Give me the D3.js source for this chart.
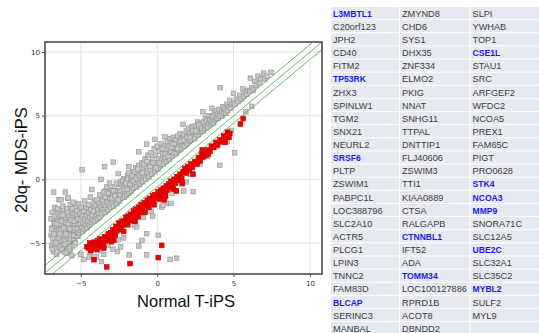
<!DOCTYPE html>
<html>
<head>
<meta charset="utf-8">
<script src="https://cdn.jsdelivr.net/npm/d3@7"></script>
<style>
  body { margin: 0; background: #fff; }
  svg { display: block; font-family: "Liberation Sans", Arial, sans-serif; }
</style>
</head>
<body>
<div id="chart"></div>
<script>
// log2 expression, Normal T-iPS (x) vs 20q- MDS-iPS (y)
const grayPts = [
  [-6.95,-3.1],[-6.95,-4.4],[-6.9,-5.2],[-6.88,-2.6],[-6.85,-3.8],[-6.82,-4.9],[-6.8,-5.7],[-6.78,-1.0],
  [-6.75,-3.4],[-6.72,-4.1],[-6.7,-2.2],[-6.68,-5.4],[-6.65,-4.7],[-6.62,-3.0],[-6.6,-3.7],[-6.58,-5.9],
  [-6.55,-2.7],[-6.52,-4.3],[-6.5,-5.1],[-6.48,-3.3],[-6.45,-1.6],[-6.42,-4.0],[-6.4,-4.8],[-6.38,-2.4],
  [-6.35,-3.6],[-6.32,-5.5],[-6.3,-2.9],[-6.28,-4.5],[-6.25,-3.9],[-6.22,-5.2],[-6.2,-3.2],[-6.18,-2.1],
  [-6.15,-4.2],[-6.12,-5.7],[-6.1,-2.6],[-6.08,-3.5],[-6.05,-4.8],[-6.02,-1.0],[-6.0,-4.0],[-5.98,-3.0],
  [-5.95,-5.3],[-5.92,-2.3],[-5.9,-4.5],[-5.88,-3.7],[-5.85,-1.5],[-5.82,-5.0],[-5.8,-2.8],[-5.78,-4.2],
  [-5.75,-3.3],[-5.72,-5.6],[-5.7,-2.0],[-5.68,-3.9],[-5.65,-4.7],[-5.62,-2.5],[-5.6,-3.5],[-5.58,-5.2],
  [-5.55,-4.3],[-5.52,-3.0],[-5.5,-1.8],[-5.48,-4.0],[-5.45,-4.8],[-5.42,-2.7],[-5.4,-3.6],[-5.38,-5.0],
  [-5.35,-2.2],[-5.32,-4.4],[-5.3,-3.2],[-6.6,-4.5],[-6.3,-4.0],[-6.0,-3.4],[-5.7,-4.4],[-5.5,-3.8],
  [-6.85,-4.6],[-6.4,-5.3],[-5.95,-5.8],[-6.7,-3.5],[-6.1,-4.4],[-6.3,-1.6],[-5.83,-1.46],
  [-6.92,-3.9],[-6.87,-5.5],[-6.77,-4.3],[-6.73,-2.9],[-6.63,-5.0],[-6.57,-3.5],[-6.53,-2.3],[-6.47,-4.6],
  [-6.37,-4.3],[-6.27,-3.3],[-6.23,-5.5],[-6.17,-2.8],[-6.13,-3.8],[-6.03,-5.1],[-5.97,-4.3],[-5.87,-2.6],
  [-5.83,-3.5],[-5.77,-5.3],[-5.73,-3.9],[-5.63,-3.2],[-5.57,-2.3],[-5.47,-4.4],[-5.43,-3.3],[-5.37,-3.9],
  [-5.27,-2.8],[-5.17,-3.7],[-5.08,-2.4],[-4.97,-3.5],[-4.87,-2.2],[-4.77,-3.3],[-4.67,-2.6],[-4.57,-3.0],
  [-4.47,-2.3],[-4.37,-3.2],[-4.27,-2.2],[-4.17,-2.9],[-4.07,-1.7],[-3.97,-2.6],[-3.87,-2.0],[-3.77,-2.6],
  [-3.67,-1.5],[-3.57,-2.0],[-3.47,-1.6],[-3.37,-0.9],[-3.27,-1.4],[-3.17,-1.8],[-3.07,-1.0],
  [-5.25,-2.5],[-5.22,-3.9],[-5.2,-4.5],[-5.18,-3.1],[-5.15,-1.9],[-5.12,-4.2],[-5.1,-3.5],[-5.05,-2.7],
  [-5.02,-4.0],[-5.0,-3.2],[-4.98,-2.2],[-4.95,-3.8],[-4.92,0.75],[-4.9,-2.9],[-4.88,-4.1],[-4.85,-3.4],
  [-4.8,-2.5],[-4.78,-3.9],[-4.75,-1.7],[-4.72,-3.1],[-4.7,-3.6],[-4.65,-2.2],[-4.62,-2.8],[-4.6,-3.8],
  [-4.55,-3.3],[-4.5,-2.0],[-4.48,-2.6],[-4.45,-3.6],[-4.4,-3.0],[-4.38,-1.4],[-4.35,-2.4],[-4.3,-3.4],
  [-4.28,-0.8],[-4.25,-2.8],[-4.2,-3.2],[-4.18,-1.9],[-4.15,-2.5],[-4.1,-3.3],[-4.05,-2.1],[-4.0,-2.9],
  [-3.95,-1.6],[-3.92,-3.1],[-3.9,-2.4],[-3.85,-2.7],[-3.8,-1.9],[-3.78,-3.0],[-3.75,-1.2],[-3.7,-2.2],
  [-3.68,0.0],[-3.65,-2.7],[-3.6,-1.7],[-3.55,-2.4],[-3.5,-1.0],[-3.48,-2.0],[-3.45,1.0],[-3.42,-2.6],
  [-3.4,-1.4],[-3.35,-2.2],[-3.3,-0.6],[-3.28,-1.8],[-3.25,-2.4],[-3.2,-1.1],[-3.15,-2.0],[-3.12,-0.3],
  [-3.1,-1.5],[-3.05,-2.2],[-3.0,-0.8],
  [-2.95,-1.9],[-2.9,-1.2],[-2.88,1.35],[-2.85,-2.1],[-2.8,-0.6],[-2.75,-1.6],[-2.7,-0.9],[-2.65,-1.9],
  [-2.6,-1.3],[-2.55,0.45],[-2.5,-0.4],[-2.48,-1.7],[-2.45,-1.0],[-2.4,-0.2],[-2.35,-1.5],[-2.3,-0.7],
  [-2.25,-1.2],[-2.2,0.05],[-2.15,-1.4],[-2.1,-0.5],[-2.05,-0.9],[-2.0,-1.25],[-1.95,0.3],[-1.9,-0.3],
  [-1.86,1.0],[-1.85,-1.1],[-1.8,-0.6],[-1.75,0.1],[-1.7,-0.95],[-1.65,-0.2],[-1.6,0.6],[-1.55,-0.7],
  [-1.5,0.2],[-1.45,-0.4],[-1.4,0.9],[-1.35,-0.6],[-1.3,0.4],[-1.25,-0.1],[-1.21,2.17],[-1.2,1.1],
  [-1.15,-0.4],[-1.1,0.6],[-1.05,0.0],[-1.0,1.3],[-0.95,-0.2],[-0.9,0.8],[-0.85,0.3],[-0.8,1.6],
  [-0.75,0.0],[-0.69,2.77],[-0.7,1.0],[-0.65,0.5],[-0.6,1.9],[-0.55,0.2],[-0.5,1.3],[-0.45,0.7],
  [-0.4,2.1],[-0.35,0.4],[-0.3,1.6],[-0.25,1.0],[-0.2,2.4],[-0.15,3.14],[-0.15,0.6],[-0.1,1.9],
  [-0.05,1.2],[0.0,2.6],[0.05,0.8],[0.1,1.6],[0.15,2.2],[0.2,1.1],[0.25,2.8],[0.3,1.5],
  [0.35,2.0],[0.4,1.2],[0.45,2.6],[0.5,3.35],[0.5,1.7],[0.55,2.3],[0.6,1.4],[0.65,3.0],
  [0.7,2.0],[0.75,2.6],[0.8,1.6],[0.85,3.2],[0.9,2.2],[0.95,1.8],[1.0,2.8],[1.05,3.3],
  [1.1,2.1],[1.15,2.5],[1.2,3.1],[1.25,2.0],[1.3,2.7],[1.35,3.4],[1.4,2.3],[1.45,2.9],
  [1.5,3.6],[1.55,2.4],[1.6,3.2],[1.69,4.32],[1.7,2.7],[1.75,3.5],[1.8,2.6],[1.85,3.0],
  [1.9,3.8],[1.95,2.8],[2.0,3.4],[2.05,4.0],[2.1,3.0],[2.15,3.6],[2.2,3.1],[2.25,4.1],
  [2.34,4.14],[2.3,3.4],[2.4,3.7],[2.45,3.2],[2.5,4.2],[2.55,3.5],[2.6,3.9],[2.65,4.5],
  [2.7,3.5],[2.75,4.1],[2.8,3.7],[2.85,4.4],[2.9,3.8],[2.95,4.2],[2.99,5.31],[3.0,3.8],
  [-2.97,-1.5],[-2.87,-0.9],[-2.77,-1.3],[-2.67,-0.3],[-2.57,-1.6],[-2.47,-1.2],[-2.37,-0.9],[-2.27,-0.1],
  [-2.17,-0.8],[-2.07,-0.3],[-1.97,-0.8],[-1.87,0.5],[-1.77,-0.4],[-1.67,0.3],[-1.57,-0.1],[-1.47,0.6],
  [-1.37,0.1],[-1.27,0.8],[-1.17,0.3],[-0.97,0.5],[-0.87,1.2],[-0.67,1.4],[-0.47,1.0],[-0.27,1.3],
  [-0.07,0.9],[0.13,1.3],[0.33,2.4],[0.53,2.0],[0.73,1.8],[0.93,2.5],[1.13,2.8],[1.33,2.4],
  [1.53,3.0],[1.73,3.1],[1.93,3.3],[2.13,3.3],[2.33,3.8],[2.53,3.8],[2.73,4.3],[2.93,4.0],
  [3.05,4.5],[3.1,4.0],[3.15,4.8],[3.2,4.2],[3.25,4.6],[3.3,4.1],[3.35,5.0],[3.4,4.4],
  [3.45,4.7],[3.5,4.3],[3.58,5.58],[3.55,5.0],[3.6,4.5],[3.65,4.9],[3.7,4.4],[3.75,5.2],
  [3.8,4.7],[3.85,5.4],[3.9,4.8],[3.95,5.1],[4.0,4.8],[4.05,5.5],[4.12,7.2],[4.1,5.0],
  [4.2,5.3],[4.25,4.95],[4.3,5.7],[4.35,5.2],[4.45,5.5],[4.5,5.2],[4.55,5.9],[4.6,5.4],
  [4.7,5.7],[4.75,6.2],[4.8,5.6],[4.9,5.9],[4.99,6.76],[5.0,6.0],[5.1,5.9],[5.2,6.3],
  [5.3,6.1],[5.4,6.6],[5.5,6.3],[5.6,7.1],[5.65,6.5],[5.75,6.9],[5.8,5.3],[5.85,6.7],
  [5.95,7.0],[6.1,7.94],[6.05,6.9],[6.18,5.74],[6.2,7.2],[6.3,7.0],[6.4,7.7],[6.5,7.4],
  [6.6,8.1],[6.7,7.6],[6.8,7.9],[6.97,8.34],[7.05,7.9],[7.2,8.1],[7.45,8.4],
  [0.07,-4.4],[-1.2,-5.24],[-0.69,-5.94],[0.84,-6.29],[1.27,-6.2],[-1.84,-5.94],[-2.6,-5.68],[-3.65,-6.46],
  [-0.69,-4.27],[4.1,1.1],[5.07,2.08],[4.59,2.96],[1.74,-0.92],[1.21,-0.92],[0.98,-1.1],[4.85,3.84],
  [-4.0,-6.1],[-4.4,-5.9],[-3.9,-5.6],[-3.2,-5.2],[-2.9,-5.5],[-2.2,-4.6],[-1.5,-3.6],[-0.9,-3.0],
  [-0.4,-2.5],[0.3,-2.2],[0.6,-1.9],[2.3,0.6],[2.8,1.2],[3.3,1.8],[3.9,2.6],[-4.8,-6.3],
  [-3.5,-5.9],[-2.4,-5.3],[-1.0,-4.8],[0.5,-1.4],[1.6,-0.4],[2.1,0.4],[-1.9,-3.6],[-3.0,-4.7],
  [-5.0,-5.9],[-5.6,-6.0],[2.35,-0.97],[0.37,-2.02],
  [-2.55,-4.75],[-1.35,-3.75],[-0.3,-2.9],[0.9,-1.9],[1.9,-0.2],[-3.7,-5.6],[-4.45,-6.1]
];

const redPts = [
  [-4.6,-5.3],[-4.5,-5.4],[-4.42,-5.0],[-4.35,-5.6],[-4.25,-5.2],[-4.15,-4.95],[-4.1,-5.45],[-4.0,-5.1],
  [-3.9,-4.85],[-3.85,-5.3],[-3.75,-4.7],[-3.7,-5.0],[-3.6,-4.75],[-3.55,-5.15],[-3.45,-4.5],[-3.4,-4.85],
  [-3.3,-4.6],[-3.2,-4.3],[-3.15,-4.75],[-3.05,-4.2],[-2.95,-4.5],[-2.9,-3.95],[-2.8,-4.2],[-2.7,-3.7],
  [-2.65,-4.05],[-2.55,-3.8],[-2.5,-3.45],[-2.4,-3.7],[-2.3,-3.3],[-2.25,-3.6],[-2.15,-3.25],[-2.05,-3.0],
  [-2.0,-3.4],[-1.9,-2.9],[-1.85,-3.2],[-1.75,-2.75],[-1.65,-3.0],[-1.55,-2.5],[-1.5,-2.8],[-1.4,-2.35],
  [-1.3,-2.6],[-1.2,-2.2],[-1.15,-2.5],[-1.05,-2.0],[-0.95,-2.3],[-0.85,-1.85],[-0.75,-2.1],[-0.65,-1.65],
  [-0.6,-1.95],[-0.5,-1.5],[-0.4,-1.8],[-0.3,-1.3],[-0.25,-1.6],[-0.15,-1.2],[-0.05,-1.45],[0.05,-1.0],
  [0.15,-1.3],[0.25,-0.85],[0.3,-1.2],[0.4,-0.7],[0.5,-1.0],[0.6,-0.5],[0.65,-0.85],[0.75,-0.35],
  [0.85,-0.6],[0.9,-0.15],[1.0,-0.5],[1.1,0.0],[1.2,-0.3],[1.3,0.2],[1.4,-0.1],[1.5,0.4],
  [1.6,0.1],[1.7,0.6],[1.8,0.85],[1.9,0.5],[2.0,1.0],[2.1,0.7],[2.2,1.2],[2.3,0.95],
  [2.45,1.4],[2.6,1.2],[2.7,1.7],[2.8,1.45],[2.9,2.0],[3.0,1.75],[3.1,2.1],[3.2,1.9],
  [3.3,2.3],[3.45,2.2],[3.55,2.6],[3.7,2.5],[3.85,2.9],[3.95,2.7],[4.1,3.1],[4.2,2.95],
  [4.35,3.4],[4.5,3.3],[4.6,3.7],[4.75,3.6],[5.45,4.34],[5.63,4.78],
  [-2.75,-4.4],[-2.35,-3.95],[-1.95,-3.55],[-1.6,-3.25],[-1.0,-2.6],[-0.55,-2.2],[0.1,-1.55],[0.55,-1.3],
  [1.05,-0.75],[2.95,2.3],[3.35,2.0],
  [-3.95,-5.5],[-3.5,-5.4],[-2.85,-4.8],[-2.2,-4.1],[-1.45,-3.3],[-0.8,-2.6],[-0.2,-2.0],[0.45,-1.6],
  [1.25,-0.9],[1.65,-0.3],[2.35,0.4],[4.45,2.9],[4.7,3.3],[-3.0,-4.9],[-1.25,-2.95],
  [-4.14,-6.31],[-3.31,-6.88],[-1.78,-6.62],[0.07,-6.15],[0.29,-5.19]
];

// fold-change guide lines: y = x + offset
const guideOffsets = [0.585, 0, -0.585];
const ticks = [-5, 0, 5, 10];

const col1 = ["L3MBTL1","C20orf123","JPH2","CD40","FITM2","TP53RK","ZHX3","SPINLW1","TGM2","SNX21","NEURL2","SRSF6","PLTP","ZSWIM1","PABPC1L","LOC388796","SLC2A10","ACTR5","PLCG1","LPIN3","TNNC2","FAM83D","BLCAP","SERINC3","MANBAL"];
const col2 = ["ZMYND8","CHD6","SYS1","DHX35","ZNF334","ELMO2","PKIG","NNAT","SNHG11","TTPAL","DNTTIP1","FLJ40606","ZSWIM3","TTI1","KIAA0889","CTSA","RALGAPB","CTNNBL1","IFT52","ADA","TOMM34","LOC100127886","RPRD1B","ACOT8","DBNDD2"];
const col3 = ["SLPI","YWHAB","TOP1","CSE1L","STAU1","SRC","ARFGEF2","WFDC2","NCOA5","PREX1","FAM65C","PIGT","PRO0628","STK4","NCOA3","MMP9","SNORA71C","SLC12A5","UBE2C","SLC32A1","SLC35C2","MYBL2","SULF2","MYL9",""];
const highlighted = ["L3MBTL1","TP53RK","SRSF6","BLCAP","CTNNBL1","TOMM34","CSE1L","STK4","NCOA3","MMP9","UBE2C","MYBL2"];

const W = 539, H = 333;
const plot = { left: 45, right: 322, top: 42, bottom: 274 };

const svg = d3.select("#chart").append("svg")
  .attr("width", W)
  .attr("height", H);

const x = d3.scaleLinear().domain([-7.35, 10.79]).range([plot.left, plot.right]);
const y = d3.scaleLinear().domain([-7.44, 10.79]).range([plot.bottom, plot.top]);

svg.append("clipPath").attr("id", "clip")
  .append("rect")
  .attr("x", plot.left).attr("y", plot.top)
  .attr("width", plot.right - plot.left).attr("height", plot.bottom - plot.top);

// grid
const grid = svg.append("g").attr("stroke", "#e2e2e2").attr("stroke-width", 1);
grid.selectAll(".gx").data(ticks).join("line")
  .attr("x1", d => x(d)).attr("x2", d => x(d))
  .attr("y1", plot.top).attr("y2", plot.bottom);
grid.selectAll(".gy").data(ticks).join("line")
  .attr("y1", d => y(d)).attr("y2", d => y(d))
  .attr("x1", plot.left).attr("x2", plot.right);

const inner = svg.append("g").attr("clip-path", "url(#clip)");

// gray points
const sq = 4.6, sqRed = 4.8;
inner.append("g").selectAll("rect")
  .data(grayPts)
  .join("rect")
  .attr("x", d => x(d[0]) - sq / 2)
  .attr("y", d => y(d[1]) - sq / 2)
  .attr("width", sq).attr("height", sq)
  .attr("fill", "#c6c6c6")
  .attr("stroke", "#9c9c9c")
  .attr("stroke-width", 0.7);

// guide lines
const lo = -8, hi = 11;
inner.append("g").selectAll("line")
  .data(guideOffsets)
  .join("line")
  .attr("x1", x(lo)).attr("y1", d => y(lo + d))
  .attr("x2", x(hi)).attr("y2", d => y(hi + d))
  .attr("stroke", "#55b455")
  .attr("stroke-width", 0.9);

// red points
inner.append("g").selectAll("rect")
  .data(redPts)
  .join("rect")
  .attr("x", d => x(d[0]) - sqRed / 2)
  .attr("y", d => y(d[1]) - sqRed / 2)
  .attr("width", sqRed).attr("height", sqRed)
  .attr("fill", "#ee0000")
  .attr("stroke", "#c80000")
  .attr("stroke-width", 0.6);

// axes
const xAxis = svg.append("g")
  .attr("transform", `translate(0,${plot.bottom})`)
  .call(d3.axisBottom(x).tickValues(ticks).tickSize(3).tickPadding(4));
const yAxis = svg.append("g")
  .attr("transform", `translate(${plot.left},0)`)
  .call(d3.axisLeft(y).tickValues(ticks).tickSize(3).tickPadding(2));
[xAxis, yAxis].forEach(a => {
  a.select(".domain").remove();
  a.selectAll("line").attr("stroke", "#555");
  a.selectAll("text").attr("font-size", 7).attr("fill", "#333")
    .attr("font-family", "'DejaVu Sans', sans-serif");
});

// frame
svg.append("rect")
  .attr("x", plot.left).attr("y", plot.top)
  .attr("width", plot.right - plot.left).attr("height", plot.bottom - plot.top)
  .attr("fill", "none")
  .attr("stroke", "#4a4a4a")
  .attr("stroke-width", 1.6);

// axis titles
svg.append("text")
  .attr("x", 186).attr("y", 307)
  .attr("text-anchor", "middle")
  .attr("font-size", 16.5)
  .attr("fill", "#111")
  .text("Normal T-iPS");
svg.append("text")
  .attr("transform", "translate(27,160) rotate(-90)")
  .attr("text-anchor", "middle")
  .attr("font-size", 16.5)
  .attr("fill", "#111")
  .text("20q- MDS-iPS");

// gene table
const cols = [col1, col2, col3];
const colX = [331, 400, 470.5, 540];
const rowTop = 7, rowH = 13.13;
const table = svg.append("g");
cols.forEach((col, ci) => {
  const g = table.append("g");
  g.selectAll("rect").data(col).join("rect")
    .attr("x", colX[ci])
    .attr("y", (d, i) => rowTop + i * rowH)
    .attr("width", colX[ci + 1] - colX[ci] - 1)
    .attr("height", rowH - 1)
    .attr("fill", "#e6e9f0");
  g.selectAll("text").data(col).join("text")
    .attr("x", colX[ci] + 2)
    .attr("y", (d, i) => rowTop + i * rowH + rowH / 2 + 3.2)
    .attr("font-size", d => highlighted.includes(d) ? 8.6 : 9.2)
    .attr("font-weight", d => highlighted.includes(d) ? "bold" : "normal")
    .attr("fill", d => highlighted.includes(d) ? "#1c1cf0" : "#404040")
    .text(d => d);
});
</script>
</body>
</html>
